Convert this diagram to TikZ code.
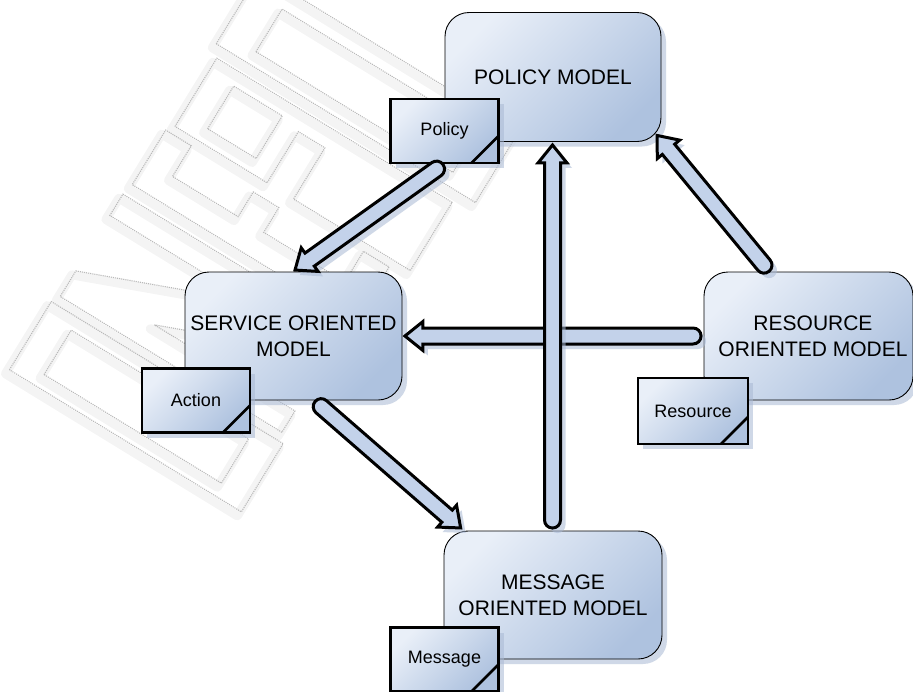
\documentclass[tikz,border=0pt]{standalone}
\usepackage{fontspec}
\setmainfont{Liberation Sans}
\usetikzlibrary{calc,shadows}

\definecolor{boxlight}{HTML}{E9EFF8}
\definecolor{boxdark}{HTML}{AEC2DF}
\definecolor{arrowfill}{HTML}{C3D2EA}
\definecolor{shadowblue}{HTML}{A9B9D4}

\tikzset{
  softshadow/.style={drop shadow={shadow xshift=5pt, shadow yshift=-5pt,
      fill=shadowblue, opacity=.55}},
  modelbox/.style={rectangle, rounded corners=24pt, draw=black, line width=.9pt,
      top color=boxlight, bottom color=boxdark, shading angle=45,
      minimum width=216pt, minimum height=129pt, inner sep=0pt, align=center,
      font=\fontsize{21}{26}\selectfont, softshadow},
  docbox/.style={rectangle, draw=black, line width=2.8pt,
      top color=boxlight, bottom color=boxdark, shading angle=45,
      minimum width=108pt, minimum height=64pt, inner sep=0pt,
      font=\fontsize{18}{22}\selectfont, softshadow,
      path picture={\draw[line width=2.8pt]
        ([yshift=27pt]path picture bounding box.south east) --
        ([xshift=-27pt]path picture bounding box.south east);}},
  blockarrow/.style={draw=black, line width=3pt, fill=arrowfill, softshadow},
  wmglow/.style={draw=black, opacity=.045, line width=9pt, line join=round},
  wmline/.style={draw=gray!55, line width=1.1pt, densely dotted}
}

% block arrow from tail #1 (centre of the round end) to tip #2
\newcommand\blockarr[2]{%
  \path[blockarrow] let \p1=(#1), \p2=(#2), \n1={atan2(\y2-\y1,\x2-\x1)} in
    ($(#1)!8pt!90:(#2)$)
    -- ($($(#2)!18pt!(#1)$)!8pt!90:(#2)$)
    -- ($($(#2)!18pt!(#1)$)!14.5pt!90:(#2)$)
    -- (#2)
    -- ($($(#2)!18pt!(#1)$)!14.5pt!-90:(#2)$)
    -- ($($(#2)!18pt!(#1)$)!8pt!-90:(#2)$)
    -- ($(#1)!8pt!-90:(#2)$)
    arc[start angle=\n1-90, end angle=\n1-270, radius=8pt] -- cycle;}

% outlines of the faded lettering in the background
\newcommand\wmshapes{%
  (-60,116) rectangle (212,196)
  (-28,130) rectangle (180,182)
  (205,205) -- (-55,205) -- (-55,235) -- (110,300) -- (-55,300) -- (-55,325)
    -- (205,325) -- (205,295) -- (40,230) -- (205,230) -- cycle
  (210,338) -- (-52,338) -- (-52,402) -- (-22,402) -- (-22,366) -- (55,366)
    -- (55,395) -- (85,395) -- (85,366) -- (180,366) -- (180,402) -- (210,402) -- cycle
  (-46,410) -- (-46,490) -- (230,490) -- (230,410) -- (93,410) -- (93,470)
    -- (62,470) -- (62,410) -- cycle
  (-17,425) rectangle (40,475)
  (-54,502) rectangle (250,585)
  (-16,516) rectangle (215,566)}

\begin{document}
\begin{tikzpicture}[x=1pt, y=-1pt]
\useasboundingbox[fill=white] (0,0) rectangle (913,691);

% background lettering
\begin{scope}[shift={(-4pt,-504pt)}, rotate=-31.5, x=1pt, y=1pt]
  \path[wmglow] \wmshapes;
\end{scope}
\begin{scope}[shift={(0pt,-500pt)}, rotate=-31.5, x=1pt, y=1pt]
  \path[wmline] \wmshapes;
\end{scope}

% models
\node[modelbox] (policy) at (553,77) {POLICY MODEL};
\node[modelbox, minimum width=217pt, minimum height=128pt] (service) at (293.5,336)
  {SERVICE ORIENTED\\MODEL};
\node[modelbox, minimum width=209pt, minimum height=128pt] (resource) at (808.5,336)
  {\hspace*{9pt}RESOURCE\\\hspace*{9pt}ORIENTED MODEL};
\node[modelbox, minimum width=218pt, minimum height=128pt] (message) at (553,595)
  {MESSAGE\\ORIENTED MODEL};

% documents
\node[docbox] (pdoc) at (444.5,131) {Policy};
\node[docbox] (adoc) at (196,400.5) {Action};
\node[docbox, minimum width=110pt, minimum height=66pt] (rdoc) at (693,411) {Resource};
\node[docbox] (mdoc) at (444.5,659.5) {Message};

% arrow end points
\coordinate (t1) at ($(pdoc.south)+(-8,4.7)$);
\coordinate (h1) at ($(service.north)+(1.5,-1.5)$);
\coordinate (t2) at ($(service.south)+(27.7,6.2)$);
\coordinate (h2) at ($(message.north west)+(17.1,-2.6)$);
\coordinate (t3) at ($(message.north)+(-0.5,-10.5)$);
\coordinate (h3) at ($(policy.south)+(-0.5,3)$);
\coordinate (t4) at ($(resource.north)+(-44.5,-6.4)$);
\coordinate (h4) at ($(policy.south east)+(-4.4,-6.5)$);
\coordinate (t5) at ($(resource.west)+(-10.5,0)$);
\coordinate (h5) at ($(service.east)+(2.5,0)$);

% connectors
\blockarr{t5}{h5}
\blockarr{t3}{h3}
\blockarr{t1}{h1}
\blockarr{t2}{h2}
\blockarr{t4}{h4}
\end{tikzpicture}
\end{document}
